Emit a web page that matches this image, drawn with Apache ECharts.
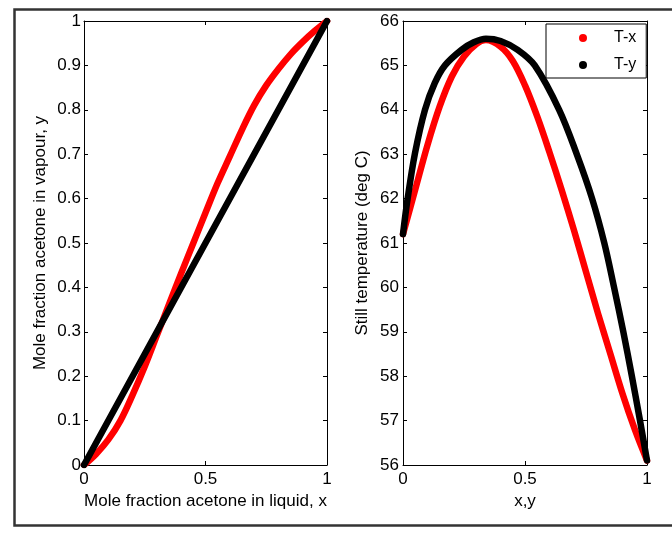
<!DOCTYPE html>
<html>
<head>
<meta charset="utf-8">
<script src="https://cdn.jsdelivr.net/npm/echarts@6/dist/echarts.min.js"></script>
<style>
html,body{margin:0;padding:0;background:#fff;}
#chart{width:672px;height:535px;}
</style>
</head>
<body>
<div id="chart"></div>
<script>
// ---- Data ----
// Left plot: x-y equilibrium
const xLiq = [0, 0.05, 0.1, 0.15, 0.2, 0.25, 0.3, 0.35, 0.4, 0.45, 0.5, 0.55, 0.6, 0.65, 0.7, 0.75, 0.8, 0.85, 0.9, 0.95, 1];
const yVap = [0, 0.025, 0.057, 0.100, 0.158, 0.222, 0.292, 0.362, 0.432, 0.500, 0.568, 0.635, 0.695, 0.755, 0.810, 0.855, 0.892, 0.925, 0.953, 0.978, 1];
const diagX = [0, 1];
const diagY = [0, 1];

// Right plot: T-x (bubble) and T-y (dew)
const xTx = [0, 0.05, 0.1, 0.15, 0.2, 0.25, 0.3, 0.34, 0.4, 0.45, 0.5, 0.55, 0.6, 0.65, 0.7, 0.75, 0.8, 0.85, 0.9, 0.95, 1];
const tTx = [61.2, 62.2, 63.2, 64.07, 64.75, 65.2, 65.48, 65.57, 65.42, 65.1, 64.55, 63.85, 63.05, 62.2, 61.3, 60.35, 59.4, 58.5, 57.6, 56.8, 56.1];
const yTy = [0, 0.019, 0.049, 0.09, 0.13, 0.172, 0.24, 0.29, 0.34, 0.4, 0.47, 0.54, 0.64, 0.712, 0.775, 0.825, 0.865, 0.903, 0.937, 0.971, 1];
const tTy = [61.2, 62.0, 63.02, 64.0, 64.6, 65.0, 65.35, 65.52, 65.6, 65.55, 65.35, 65.0, 64.0, 63.0, 62.0, 61.0, 60.0, 59.0, 58.03, 57.01, 56.1];

const leftYTicks = [0, 0.1, 0.2, 0.3, 0.4, 0.5, 0.6, 0.7, 0.8, 0.9, 1];
const rightYTicks = [56, 57, 58, 59, 60, 61, 62, 63, 64, 65, 66];
const xTicks = [0, 0.5, 1];

const pair = (a, b) => a.map((v, i) => [v, b[i]]);

const FONT = 'Liberation Sans, Arial, sans-serif';
const TXT = '#000';
const FS = 17;

function xAxisDef(gi, pos, name, gap) {
  return {
    gridIndex: gi, type: 'value', position: pos,
    min: xTicks[0], max: xTicks[xTicks.length - 1], interval: xTicks[1] - xTicks[0],
    name: pos === 'bottom' ? name : '', nameLocation: 'middle', nameGap: gap,
    nameTextStyle: {fontFamily: FONT, fontSize: FS, color: TXT},
    axisLine: {show: true, onZero: false, lineStyle: {color: '#000', width: 1}},
    axisTick: {show: true, inside: true, length: 4, lineStyle: {color: '#000'}},
    axisLabel: {show: pos === 'bottom', margin: 6, fontFamily: FONT, fontSize: FS, color: TXT,
      formatter: v => String(+v.toFixed(1))},
    splitLine: {show: false}
  };
}
function yAxisDef(gi, pos, ticks, name, gap, margin) {
  return {
    gridIndex: gi, type: 'value', position: pos,
    min: ticks[0], max: ticks[ticks.length - 1], interval: +(ticks[1] - ticks[0]).toFixed(2),
    name: pos === 'left' ? name : '', nameLocation: 'middle', nameGap: gap,
    nameTextStyle: {fontFamily: FONT, fontSize: FS, color: TXT},
    axisLine: {show: true, onZero: false, lineStyle: {color: '#000', width: 1}},
    axisTick: {show: true, inside: true, length: 4, lineStyle: {color: '#000'}},
    axisLabel: {show: pos === 'left', margin: margin, fontFamily: FONT, fontSize: FS, color: TXT,
      formatter: v => String(+v.toFixed(1))},
    splitLine: {show: false}
  };
}

const chart = echarts.init(document.getElementById('chart'), null, {renderer: 'canvas'});

const lineStyleOf = (c) => ({color: c, width: 6.5, cap: 'round', join: 'round'});

chart.setOption({
  animation: false,
  backgroundColor: '#fff',
  graphic: [{
    type: 'rect', left: 12, top: 7, z: -10,
    shape: {x: 0, y: 0, width: 700, height: 516},
    style: {fill: 'none', stroke: '#333', lineWidth: 2.5}
  }],
  grid: [
    {left: 84, top: 21, width: 243, height: 444, show: false},
    {left: 403, top: 21, width: 244, height: 444, show: false}
  ],
  xAxis: [
    xAxisDef(0, 'bottom', 'Mole fraction acetone in liquid, x', 28),
    xAxisDef(0, 'top', '', 0),
    xAxisDef(1, 'bottom', 'x,y', 28),
    xAxisDef(1, 'top', '', 0)
  ],
  yAxis: [
    yAxisDef(0, 'left', leftYTicks, 'Mole fraction acetone in vapour, y', 35, 3),
    yAxisDef(0, 'right', leftYTicks, '', 0, 3),
    yAxisDef(1, 'left', rightYTicks, 'Still temperature (deg C)', 32, 4),
    yAxisDef(1, 'right', rightYTicks, '', 0, 4)
  ],
  legend: {
    data: [{name: 'T-x', icon: 'circle'}, {name: 'T-y', icon: 'circle'}],
    orient: 'vertical', left: 546, top: 24,
    padding: [5, 10, 4, 33],
    itemWidth: 8, itemHeight: 8, itemGap: 9,
    backgroundColor: '#fff', borderColor: '#000', borderWidth: 1,
    textStyle: {fontFamily: FONT, fontSize: 16, color: TXT, lineHeight: 18, padding: [0, 0, 0, 22]},
    z: 20
  },
  series: [
    {name: 'y-x', type: 'line', xAxisIndex: 0, yAxisIndex: 0, data: pair(xLiq, yVap),
     smooth: 0.35, showSymbol: false, symbol: 'none',
     lineStyle: lineStyleOf('#ff0000'), itemStyle: {color: '#ff0000'}},
    {name: 'diag', type: 'line', xAxisIndex: 0, yAxisIndex: 0, data: pair(diagX, diagY),
     showSymbol: false, symbol: 'none', lineStyle: lineStyleOf('#000000'), itemStyle: {color: '#000'}},
    {name: 'T-x', type: 'line', xAxisIndex: 2, yAxisIndex: 2, data: pair(xTx, tTx),
     smooth: 0.35, showSymbol: false, symbol: 'circle',
     lineStyle: lineStyleOf('#ff0000'), itemStyle: {color: '#ff0000'}},
    {name: 'T-y', type: 'line', xAxisIndex: 2, yAxisIndex: 2, data: pair(yTy, tTy),
     smooth: 0.35, showSymbol: false, symbol: 'circle',
     lineStyle: lineStyleOf('#000000'), itemStyle: {color: '#000000'}}
  ]
});
</script>
</body>
</html>
